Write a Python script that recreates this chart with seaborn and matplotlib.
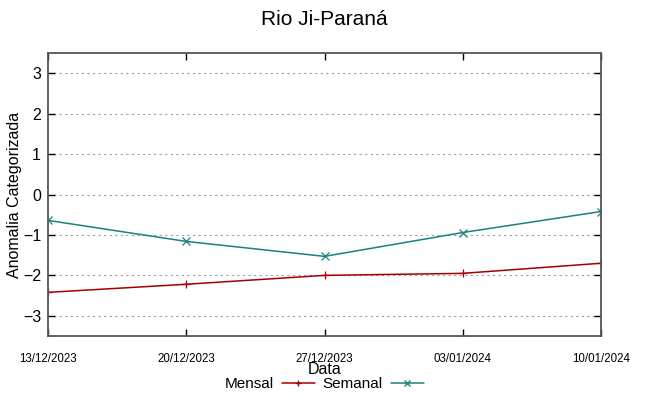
import matplotlib
matplotlib.use("Agg")
import matplotlib.pyplot as plt
import seaborn as sns
import pandas as pd

# --- data ---
datas = ["2023-12-13", "2023-12-20", "2023-12-27", "2024-01-03", "2024-01-10"]
mensal = [-2.42, -2.22, -2.00, -1.95, -1.70]
semanal = [-0.64, -1.16, -1.53, -0.94, -0.42]
tick_labels = ["13/12/2023", "20/12/2023", "27/12/2023", "03/01/2024", "10/01/2024"]

df = pd.DataFrame({
    "Data": pd.to_datetime(datas * 2),
    "Anomalia": mensal + semanal,
    "Serie": ["Mensal"] * len(datas) + ["Semanal"] * len(datas),
})

sns.set_style("white")
plt.rcParams["font.family"] = ["Liberation Sans", "DejaVu Sans"]
plt.rcParams["text.color"] = "black"
plt.rcParams["axes.labelcolor"] = "black"
plt.rcParams["xtick.color"] = "black"
plt.rcParams["ytick.color"] = "black"

fig = plt.figure(figsize=(6.49, 3.96), dpi=100)
ax = fig.add_axes([0.074, 0.1515, 0.852, 0.7145])

cores = {"Mensal": "#a50000", "Semanal": "#1b8080"}
sns.lineplot(data=df, x="Data", y="Anomalia", hue="Serie", style="Serie",
             palette=cores, markers={"Mensal": "+", "Semanal": "x"},
             dashes=False, markersize=5.5, linewidth=1.1,
             ax=ax, legend=False)
# seaborn draws marker edges white; give them the line colour
for ln in ax.lines:
    ln.set_markeredgecolor(ln.get_color())
    ln.set_markeredgewidth(0.9)

ax.set_ylim(-3.5, 3.5)
ax.set_xlim(pd.Timestamp(datas[0]), pd.Timestamp(datas[-1]))
ax.set_yticks([-3, -2, -1, 0, 1, 2, 3])
ax.set_xticks(pd.to_datetime(datas))
ax.set_xticklabels(tick_labels, fontsize=8.3)
ax.tick_params(axis="y", labelsize=11.5, direction="in", length=5, right=True, left=True, width=1, pad=5)
ax.tick_params(axis="x", direction="in", length=5, top=True, bottom=True, pad=12, width=1)
ax.yaxis.grid(True, linestyle=(0, (2, 3)), color="#a0a0a0", linewidth=0.8)
ax.xaxis.grid(False)
for s in ax.spines.values():
    s.set_color("#555555")
    s.set_linewidth(1.3)

ax.set_ylabel("Anomalia Categorizada", fontsize=11.5)
ax.yaxis.set_label_coords(-0.047, 0.5)
ax.set_xlabel("Data", fontsize=11.5, labelpad=-2)
fig.suptitle("Rio Ji-Paraná", fontsize=15, y=0.975)

h1, = ax.plot([], [], color=cores["Mensal"], marker="+", linewidth=1.1, markersize=5)
h2, = ax.plot([], [], color=cores["Semanal"], marker="x", linewidth=1.1, markersize=4)
fig.legend([h1, h2], ["Mensal", "Semanal"], loc="center", bbox_to_anchor=(0.5, 0.03),
           ncol=2, frameon=False, markerfirst=False, fontsize=11, handlelength=2.2,
           columnspacing=0.5, handletextpad=0.5, borderpad=0)

fig.savefig("out.png", dpi=100)
